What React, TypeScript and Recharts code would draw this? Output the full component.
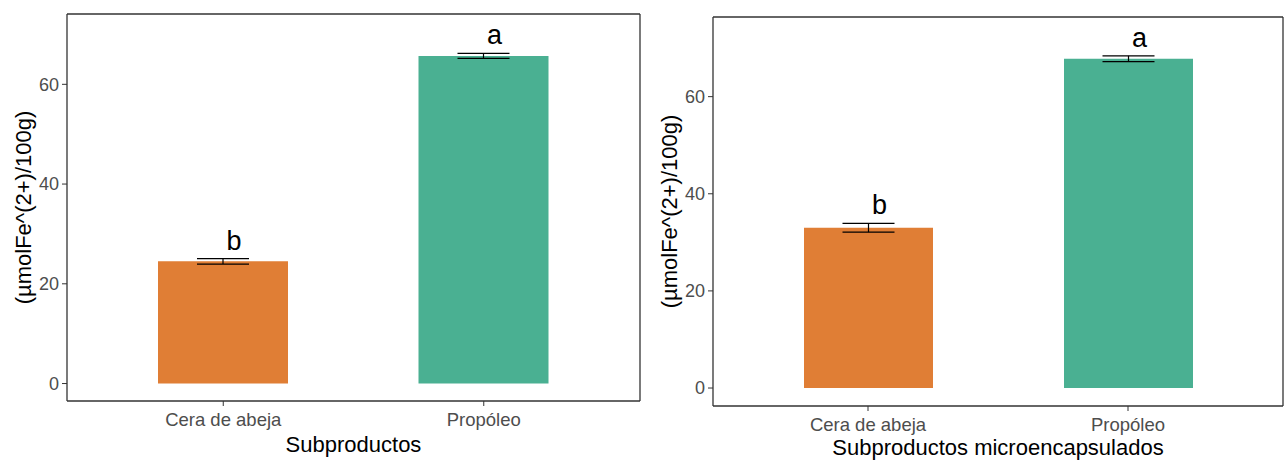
import { Bar, BarChart, Cell, ErrorBar, LabelList, XAxis, YAxis } from 'recharts';

const categories = ['Cera de abeja', 'Propóleo'];
const subproductosMeans = [24.5, 65.7];
const subproductosErr = [0.55, 0.5];
const microMeans = [33.0, 67.8];
const microErr = [0.9, 0.6];
const letters = ['b', 'a'];
const barColors = ['#E07E35', '#4AB092'];
const yTicks = [0, 20, 40, 60];
const yTitle = '(µmolFe^(2+)/100g)';

const FONT = '"Liberation Sans", Arial, sans-serif';
const AXIS = '#333333';

type Row = { name: string; mean: number; err: number; letter: string };

const makeRows = (means: number[], errs: number[]): Row[] =>
  categories.map((name, i) => ({ name, mean: means[i], err: errs[i], letter: letters[i] }));

type PanelProps = {
  rows: Row[];
  width: number;
  left: number;
  domain: [number, number];
  margin: { top: number; right: number; bottom: number; left: number };
  pad: number;
  barSize: number;
  xTitle: string;
  titleOffset: number;
};

const Panel = ({ rows, width, left, domain, margin, pad, barSize, xTitle, titleOffset }: PanelProps) => {
  const letterContent = (props: any) => {
    const { x, y, width: w, height: h, index } = props;
    const row = rows[index];
    const ppu = h / row.mean;
    const top = y - row.err * ppu;
    return (
      <text
        x={x + w / 2 + 11}
        y={top - 9}
        textAnchor="middle"
        fontFamily={FONT}
        fontSize={27}
        fill="#000"
      >
        {row.letter}
      </text>
    );
  };

  return (
    <div style={{ position: 'absolute', top: 0, left, width, height: 460 }}>
      <BarChart width={width} height={460} data={rows} margin={margin}>
        <XAxis
          dataKey="name"
          padding={{ left: pad, right: pad }}
          height={30}
          axisLine={{ stroke: AXIS, strokeWidth: 1.3 }}
          tickLine={{ stroke: AXIS }}
          tickSize={5}
          tickMargin={7}
          tick={{ fill: '#4d4d4d', fontSize: 18.5, fontFamily: FONT }}
          label={{
            content: (p: any) => (
              <text
                x={p.viewBox.x + p.viewBox.width / 2}
                y={p.viewBox.y + titleOffset}
                textAnchor="middle"
                fontFamily={FONT}
                fontSize={22}
                fill="#000"
              >
                {xTitle}
              </text>
            ),
          }}
        />
        <XAxis
          xAxisId="top"
          orientation="top"
          dataKey="name"
          height={1}
          tick={false}
          tickLine={false}
          axisLine={{ stroke: AXIS, strokeWidth: 1.3 }}
        />
        <YAxis
          domain={domain}
          ticks={yTicks}
          width={30}
          allowDataOverflow
          axisLine={{ stroke: AXIS, strokeWidth: 1.3 }}
          tickLine={{ stroke: AXIS }}
          tickSize={5}
          tickMargin={3}
          tick={{ fill: '#4d4d4d', fontSize: 18, fontFamily: FONT }}
          label={{
            content: (p: any) => {
              const cx = p.viewBox.x - 14;
              const cy = p.viewBox.y + p.viewBox.height / 2;
              return (
                <text
                  x={cx}
                  y={cy}
                  transform={`rotate(-90 ${cx} ${cy})`}
                  textAnchor="middle"
                  dominantBaseline="central"
                  fontFamily={FONT}
                  fontSize={22}
                  fill="#000"
                >
                  {yTitle}
                </text>
              );
            },
          }}
        />
        <YAxis
          yAxisId="right"
          orientation="right"
          width={1}
          tick={false}
          tickLine={false}
          axisLine={{ stroke: AXIS, strokeWidth: 1.3 }}
        />
        <Bar dataKey="mean" barSize={barSize} isAnimationActive={false}>
          {rows.map((r, i) => (
            <Cell key={r.name} fill={barColors[i]} />
          ))}
          <ErrorBar dataKey="err" width={26} stroke="#000" strokeWidth={1.2} />
          <LabelList dataKey="letter" content={letterContent} />
        </Bar>
      </BarChart>
    </div>
  );
};

const App = () => (
  <div style={{ position: 'absolute', top: 0, left: 0, width: 1287, height: 460, background: '#fff' }}>
    <Panel
      rows={makeRows(subproductosMeans, subproductosErr)}
      width={645}
      left={0}
      domain={[-3.5, 74.1]}
      margin={{ top: 13, right: 4, bottom: 29, left: 37 }}
      pad={26}
      barSize={130}
      xTitle="Subproductos"
      titleOffset={51}
    />
    <Panel
      rows={makeRows(microMeans, microErr)}
      width={637}
      left={650}
      domain={[-3.7, 76.4]}
      margin={{ top: 16, right: 3, bottom: 24, left: 33 }}
      pad={25}
      barSize={129}
      xTitle="Subproductos microencapsulados"
      titleOffset={49}
    />
  </div>
);

export default App;
